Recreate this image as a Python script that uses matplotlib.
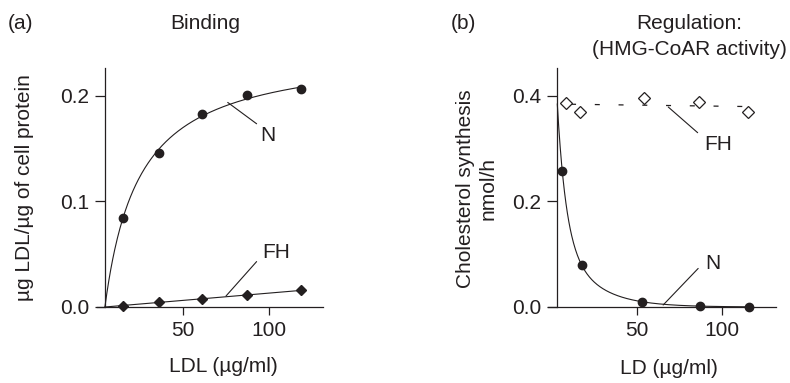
import numpy as np
import matplotlib
matplotlib.use('Agg')
import matplotlib.pyplot as plt

plt.rcParams['font.family'] = ['Liberation Sans', 'DejaVu Sans']
plt.rcParams['font.size'] = 15

ink = '#231f20'

# (a) Binding: LDL bound per ug cell protein
ldl_a = [15.1, 36.0, 61.0, 87.2, 118.6]
bind_n = [0.0846, 0.1457, 0.1827, 0.2003, 0.2063]
bind_fh = [0.0012, 0.0044, 0.0076, 0.0114, 0.0158]

# (b) Regulation: cholesterol synthesis (nmol/h)
ldl_b_n = [6.2, 17.6, 53.1, 87.4, 115.9]
synth_n = [0.258, 0.0796, 0.010, 0.002, 0.0]
ldl_b_fh = [8.2, 16.6, 54.1, 86.6, 115.3]
synth_fh = [0.387, 0.370, 0.395, 0.389, 0.369]

W, H = 790, 383
fig = plt.figure(figsize=(W / 100, H / 100), dpi=100)


def px(x, y):
    return x / W, 1 - y / H


def style_axes(ax, xs, ylim, yticks, ylabels):
    for s in ['top', 'right']:
        ax.spines[s].set_visible(False)
    ax.spines['left'].set_position(('data', xs))
    for s in ['left', 'bottom']:
        ax.spines[s].set_linewidth(0.9)
        ax.spines[s].set_color(ink)
    ax.set_ylim(*ylim)
    ax.set_xticks([50, 100])
    ax.set_yticks(yticks)
    ax.set_yticklabels(ylabels)
    ax.tick_params(axis='y', length=7.5, width=0.9, pad=4, colors=ink, labelsize=15)
    ax.tick_params(axis='x', length=5.5, width=0.9, pad=4.5, colors=ink, labelsize=15)
    ax.patch.set_visible(False)


# ---------- panel (a) ----------
xs_a = 4.6
ax1 = fig.add_axes([97 / W, 76 / H, 226 / W, 239 / H])
ax1.set_xlim(0, 131.4)
style_axes(ax1, xs_a, (0, 0.2263), [0, 0.1, 0.2], ['0.0', '0.1', '0.2'])

# hyperbolic fit (Hanes-Woolf) for normal cells
xa = np.array(ldl_a)
ta = xa - xs_a
slope, icpt = np.polyfit(ta, ta / np.array(bind_n), 1)
bmax, kd = 1 / slope, icpt / slope
tt = np.linspace(0, ta[-1], 300)
ax1.plot(tt + xs_a, bmax * tt / (kd + tt), color=ink, lw=0.8)
ax1.plot(xa, bind_n, 'o', color=ink, ms=6, clip_on=False)

# straight fit through origin for FH cells
m_fh = np.dot(ta, bind_fh) / np.dot(ta, ta)
ax1.plot([xs_a, xa[-1]], [0, m_fh * ta[-1]], color=ink, lw=0.8)
ax1.plot(xa, bind_fh, 'D', color=ink, ms=4.6, clip_on=False)

ax1.annotate('', xy=(76.0, 0.1937), xytext=(92.8, 0.1735),
             arrowprops=dict(arrowstyle='-', lw=0.8, color=ink, shrinkA=0, shrinkB=0))
ax1.text(99.6, 0.162, 'N', ha='center', va='center', color=ink)
ax1.annotate('', xy=(75.0, 0.0104), xytext=(92.8, 0.043),
             arrowprops=dict(arrowstyle='-', lw=0.8, color=ink, shrinkA=0, shrinkB=0))
ax1.text(104.1, 0.0518, 'FH', ha='center', va='center', color=ink)

# ---------- panel (b) ----------
xs_b = 3.3
ax2 = fig.add_axes([547.7 / W, 76 / H, 228.3 / W, 239 / H])
ax2.set_xlim(-2.35, 132)
style_axes(ax2, xs_b, (0, 0.4525), [0, 0.2, 0.4], ['0.0', '0.2', '0.4'])

# FH: flat linear fit, dashed
xf = np.array(ldl_b_fh)
p_fh = np.polyfit(xf, synth_fh, 1)
ax2.plot([xs_b, xf[-1]], np.polyval(p_fh, [xs_b, xf[-1]]), color=ink, lw=0.9,
         ls=(8, (4, 15)))
ax2.plot(xf, synth_fh, 'D', mfc='white', mec=ink, mew=0.9, ms=5.8, clip_on=False)

# N: two-exponential decay fit starting from the control level
xn = np.array(ldl_b_n)
yn = np.array(synth_n)
tn = xn - xs_b
y0 = np.polyval(p_fh, xs_b)
best = None
for k1 in np.linspace(0.02, 1.0, 197):
    e1 = np.exp(-k1 * tn)
    for k2 in np.linspace(0.005, 0.3, 119):
        e2 = np.exp(-k2 * tn)
        d = e1 - e2
        if np.dot(d, d) < 1e-12:
            continue
        A = np.clip(np.dot(d, yn - y0 * e2) / np.dot(d, d), 0, y0)
        err = np.sum((A * e1 + (y0 - A) * e2 - yn) ** 2)
        if best is None or err < best[0]:
            best = (err, k1, k2, A)
_, k1, k2, A = best
tt = np.linspace(0, tn[-1], 400)
ax2.plot(tt + xs_b, A * np.exp(-k1 * tt) + (y0 - A) * np.exp(-k2 * tt),
         color=ink, lw=0.8)
ax2.plot(xn, yn, 'o', color=ink, ms=6, clip_on=False)

ax2.annotate('', xy=(65.6, 0.0038), xytext=(86.2, 0.073),
             arrowprops=dict(arrowstyle='-', lw=0.8, color=ink, shrinkA=0, shrinkB=0))
ax2.text(95.1, 0.083, 'N', ha='center', va='center', color=ink)
ax2.annotate('', xy=(68.6, 0.3786), xytext=(85.9, 0.330),
             arrowprops=dict(arrowstyle='-', lw=0.8, color=ink, shrinkA=0, shrinkB=0))
ax2.text(98.0, 0.308, 'FH', ha='center', va='center', color=ink)

# ---------- labels ----------
fig.text(*px(20.8, 23.3), '(a)', ha='center', va='center', color=ink)
fig.text(*px(205.3, 23.3), 'Binding', ha='center', va='center', color=ink)
fig.text(*px(25, 187.5), 'µg LDL/µg of cell protein', rotation=90,
         ha='center', va='center', color=ink)
fig.text(*px(223.3, 366.7), 'LDL (µg/ml)', ha='center', va='center', color=ink)

fig.text(*px(463.3, 23.3), '(b)', ha='center', va='center', color=ink)
fig.text(*px(689, 23.3), 'Regulation:', ha='center', va='center', color=ink)
fig.text(*px(689, 49.3), '(HMG-CoAR activity)', ha='center', va='center', color=ink)
fig.text(*px(476.7, 189), 'Cholesterol synthesis\nnmol/h', rotation=90,
         ha='center', va='center', multialignment='center', linespacing=1.2, color=ink)
fig.text(*px(669, 368), 'LD (µg/ml)', ha='center', va='center', color=ink)

fig.savefig('out.png', dpi=100)
